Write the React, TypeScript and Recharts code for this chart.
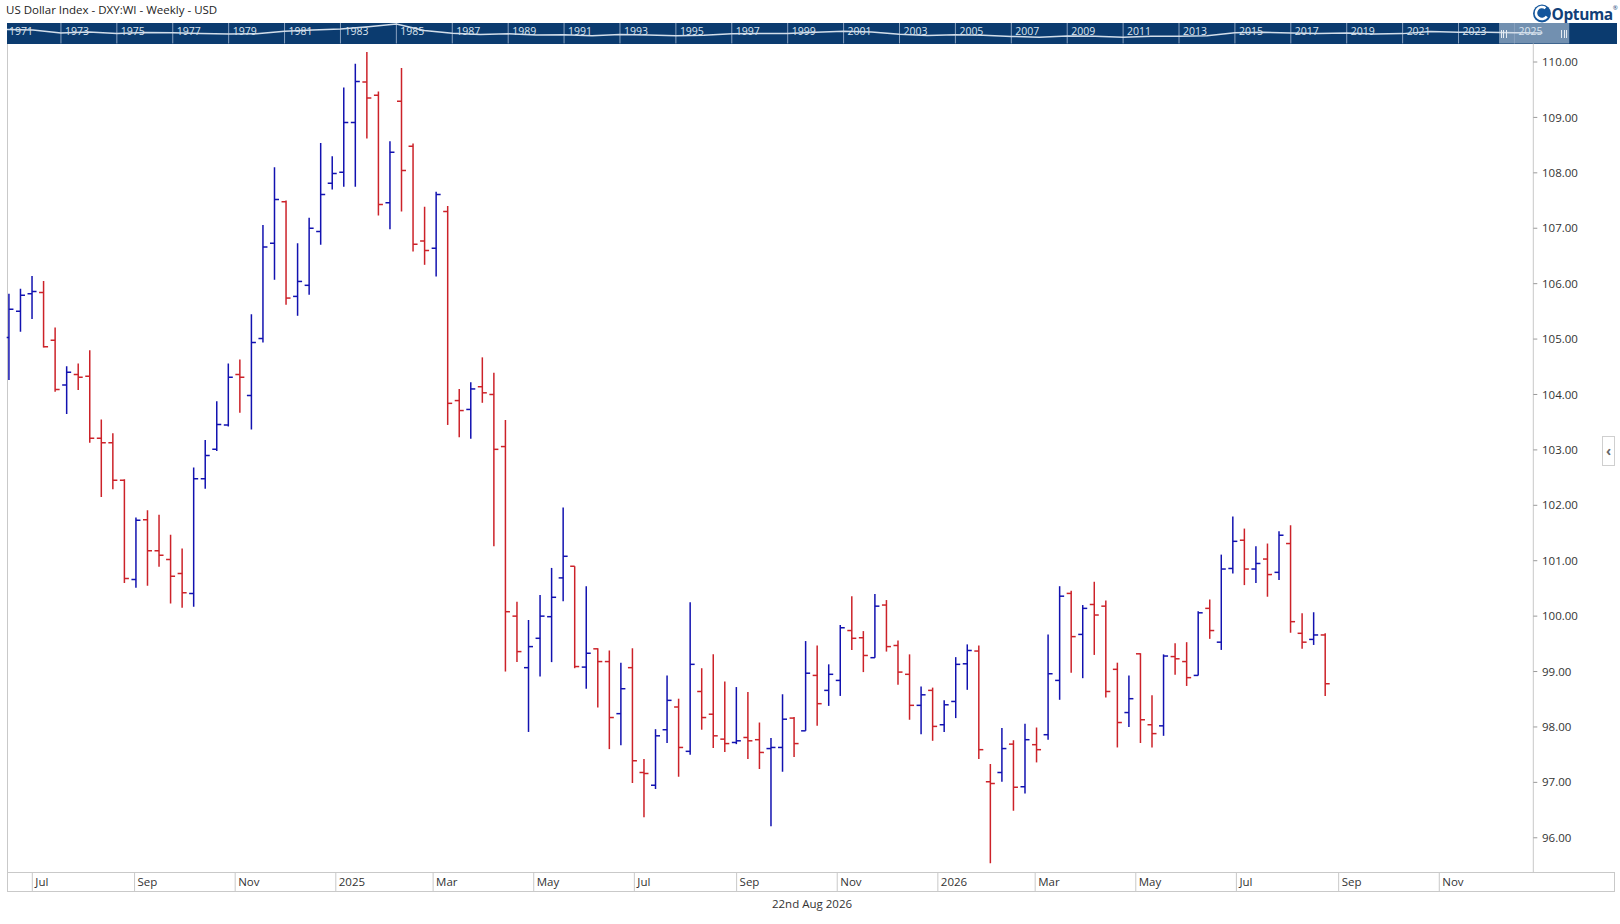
import React from "react";
import {
  ComposedChart,
  Bar,
  XAxis,
  YAxis,
  LineChart,
  Line,
  ReferenceLine,
  ReferenceArea,
} from "recharts";

// ---------- Weekly OHLC data (US Dollar Index) ----------
// x position of each weekly bar = days after 1 Jul 2024
const FIRST_BAR_DAY = -14;
const BAR_STEP_DAYS = 7;

const OPEN = [
  105.03, 105.5, 105.82, 105.84, 104.98, 104.17, 104.36, 104.33, 103.21, 103.13,
  102.45, 100.66, 101.74, 101.18, 101.02, 100.77, 100.41, 102.48, 103.01, 103.45,
  104.36, 103.98, 105.01, 106.73, 107.48, 105.77, 105.97, 106.94, 107.81, 108.01,
  108.91, 109.64, 109.4, 107.46, 109.29, 108.48, 106.77, 106.64, 107.3, 103.89,
  103.73, 104.14, 104.0, 103.06, 100.0, 99.07, 99.6, 99.99, 100.69, 100.9,
  99.08, 99.41, 99.18, 98.24, 99.07, 97.18, 96.95, 97.95, 98.36, 97.56,
  98.64, 98.23, 97.78, 97.72, 97.81, 97.77, 97.61, 97.63, 98.16, 97.93,
  98.93, 98.66, 98.84, 99.74, 99.61, 99.25, 100.2, 99.47, 98.95, 98.39,
  98.66, 98.04, 98.46, 99.14, 99.37, 97.01, 97.18, 97.69, 96.92, 97.68,
  97.86, 98.84, 100.41, 99.67, 100.21, 100.18, 99.04, 98.26, 99.32, 98.04,
  98.02, 99.27, 99.18, 98.93, 100.14, 99.53, 100.86, 101.37, 100.85, 101.03,
  100.79, 101.31, 99.69, 99.58, 99.66,
];
const HIGH = [
  105.82, 105.91, 106.14, 106.05, 105.21, 104.51, 104.56, 104.8, 103.55, 103.3,
  102.47, 101.78, 101.91, 101.83, 101.47, 101.22, 102.68, 103.18, 103.88, 104.56,
  104.63, 105.45, 107.06, 108.1, 107.5, 106.73, 107.19, 108.54, 108.3, 109.54,
  109.97, 110.18, 109.47, 108.57, 109.89, 108.53, 107.39, 107.66, 107.4, 104.1,
  104.22, 104.67, 104.39, 103.54, 100.26, 99.93, 100.38, 100.87, 101.96, 100.9,
  100.54, 99.42, 99.38, 99.16, 99.42, 97.42, 97.96, 98.93, 98.51, 100.25,
  99.06, 99.31, 98.82, 98.72, 98.63, 98.08, 97.8, 98.59, 98.18, 99.55,
  99.47, 99.13, 99.84, 100.36, 99.73, 100.4, 100.29, 99.56, 99.31, 98.73,
  98.71, 98.48, 99.26, 99.49, 99.47, 97.33, 97.98, 97.76, 98.06, 97.99,
  99.67, 100.54, 100.46, 100.2, 100.62, 100.28, 99.16, 98.93, 99.33, 98.57,
  99.31, 99.51, 99.53, 100.09, 100.3, 101.11, 101.8, 101.58, 101.26, 101.31,
  101.53, 101.64, 100.05, 100.07, 99.69,
];
const LOW = [
  104.26, 105.13, 105.36, 104.85, 104.05, 103.65, 104.08, 103.13, 102.15, 102.29,
  100.6, 100.51, 100.55, 100.89, 100.23, 100.15, 100.17, 102.3, 102.98, 103.42,
  103.67, 103.37, 104.94, 106.07, 105.62, 105.42, 105.8, 106.7, 107.7, 107.75,
  107.75, 108.62, 107.23, 106.98, 107.3, 106.58, 106.34, 106.13, 103.45, 103.23,
  103.2, 103.85, 101.26, 99.0, 99.17, 97.91, 98.91, 99.17, 100.27, 99.06,
  98.69, 98.35, 97.6, 97.67, 96.99, 96.37, 96.88, 97.71, 97.1, 97.5,
  97.95, 97.62, 97.55, 97.69, 97.42, 97.24, 96.21, 97.19, 97.46, 97.93,
  98.02, 98.38, 98.56, 99.39, 98.99, 99.25, 99.36, 98.76, 98.13, 97.87,
  97.75, 97.91, 98.16, 98.67, 97.42, 95.54, 97.01, 96.49, 96.8, 97.36,
  97.77, 98.49, 98.98, 98.88, 99.3, 98.53, 97.63, 98.0, 97.71, 97.63,
  97.84, 98.94, 98.74, 98.93, 99.59, 99.39, 100.77, 100.56, 100.6, 100.35,
  100.65, 99.7, 99.41, 99.48, 98.56,
];
const CLOSE = [
  105.54, 105.79, 105.86, 104.86, 104.09, 104.4, 104.31, 103.21, 103.13, 102.45,
  100.68, 101.73, 101.18, 101.1, 100.72, 100.42, 102.48, 102.9, 103.46, 104.31,
  104.31, 104.94, 106.66, 107.52, 105.74, 106.04, 107.0, 107.61, 107.99, 108.91,
  109.65, 109.35, 107.43, 108.37, 108.04, 106.71, 106.6, 107.61, 103.84, 103.71,
  104.1, 104.03, 103.01, 100.08, 99.36, 99.45, 100.0, 100.34, 101.08, 99.09,
  99.33, 99.18, 98.17, 98.69, 97.39, 97.16, 97.84, 98.48, 97.63, 99.13,
  98.17, 97.84, 97.7, 97.75, 97.75, 97.54, 97.63, 98.14, 97.7, 98.97,
  98.42, 98.95, 99.79, 99.6, 99.29, 100.18, 99.45, 98.99, 98.39, 98.58,
  98.01, 98.4, 99.13, 99.38, 97.59, 96.98, 97.61, 96.91, 97.77, 97.59,
  98.96, 100.36, 99.63, 100.14, 100.02, 98.64, 98.08, 98.51, 98.13, 97.88,
  99.28, 99.23, 98.89, 100.06, 99.74, 100.85, 101.35, 100.85, 100.95, 100.75,
  101.46, 99.9, 99.53, 99.66, 98.78,
];

// ---------- Axes ----------
const X_TICK_DAYS = [0, 62, 123, 184, 243, 304, 365, 427, 488, 549, 608, 669, 730, 792, 853];
const X_TICK_LABELS = [
  "Jul", "Sep", "Nov", "2025", "Mar", "May", "Jul", "Sep", "Nov", "2026", "Mar", "May", "Jul", "Sep", "Nov",
];
const X_DOMAIN = [-15.52, 910.0];
const Y_TICKS = [96, 97, 98, 99, 100, 101, 102, 103, 104, 105, 106, 107, 108, 109, 110];
const Y_DOMAIN = [95.377, 110.334];

// ---------- Navigator (long-term history strip) ----------
const NAV_YEARS = [
  1971, 1972, 1973, 1974, 1975, 1976, 1977, 1978, 1979, 1980, 1981, 1982, 1983, 1984,
  1985, 1986, 1987, 1988, 1989, 1990, 1991, 1992, 1993, 1994, 1995, 1996, 1997, 1998,
  1999, 2000, 2001, 2002, 2003, 2004, 2005, 2006, 2007, 2008, 2009, 2010, 2011, 2012,
  2013, 2014, 2015, 2016, 2017, 2018, 2019, 2020, 2021, 2022, 2023, 2024, 2025, 2026,
];
const NAV_VALUES = [
  127, 124, 108, 114, 106, 111, 110, 105, 103, 104, 118, 124, 130, 142,
  156, 122, 107, 100, 104, 97, 99, 94, 100, 97, 93, 96, 104, 105,
  106, 112, 118, 114, 102, 95, 99, 96, 90, 86, 92, 91, 86, 91,
  91, 94, 110, 112, 108, 106, 109, 103, 105, 116, 112, 113, 110, 109,
];
const NAV_LABEL_YEARS = [
  1971, 1973, 1975, 1977, 1979, 1981, 1983, 1985, 1987, 1989, 1991, 1993, 1995, 1997,
  1999, 2001, 2003, 2005, 2007, 2009, 2011, 2013, 2015, 2017, 2019, 2021, 2023, 2025,
];
const NAV_WINDOW = [2024.45, 2026.96];
const NAV_DOMAIN_X = [1971.07, 2028.68];
const NAV_DOMAIN_Y = [52, 162];

// ---------- Layout / style ----------
const W = 1620;
const H = 924;
const PLOT_LEFT = 6.7;
const PLOT_TOP = 43.5;
const PLOT_RIGHT = 1533.3;
const AXIS_TOP = 872.3;
const XAXIS_H = 18.7;
const AXIS_BOTTOM = AXIS_TOP + XAXIS_H;
const FRAME_RIGHT = 1614;
const BLUE = "#1212b0";
const RED = "#cc2229";
const GRID = "#c9c9c9";
const TEXT = "#333333";
const NAVY = "#0b3b6f";
const FONT = "'Segoe UI', 'Open Sans', 'Noto Sans', sans-serif";

const bars = OPEN.map((o, i) => ({
  day: FIRST_BAR_DAY + BAR_STEP_DAYS * i,
  open: o,
  high: HIGH[i],
  low: LOW[i],
  close: CLOSE[i],
  range: [LOW[i], HIGH[i]],
}));

const navData = NAV_YEARS.map((y, i) => ({ year: y, v: NAV_VALUES[i] }));

const OhlcShape = (props: any) => {
  const { x, y, width, height, payload } = props;
  if (x == null || y == null || !payload) return null;
  const top = Math.min(y, y + height);
  const h = Math.abs(height);
  const { open, close, high, low } = payload;
  const span = high - low;
  const cx = x + width / 2;
  const yOf = (v: number) => top + (span === 0 ? 0 : ((high - v) / span) * h);
  const color = close >= open ? BLUE : RED;
  const yo = yOf(open);
  const yc = yOf(close);
  return (
    <g stroke={color} strokeWidth={1.5} fill="none">
      <line x1={cx} x2={cx} y1={top} y2={top + h} />
      <line x1={cx - 4.5} x2={cx} y1={yo} y2={yo} />
      <line x1={cx} x2={cx + 4.5} y1={yc} y2={yc} />
    </g>
  );
};

const XTick = (props: any) => {
  const { x, payload } = props;
  const idx = X_TICK_DAYS.indexOf(payload.value);
  return (
    <g>
      <line x1={x} x2={x} y1={AXIS_TOP} y2={AXIS_BOTTOM} stroke={GRID} strokeWidth={1} />
      <text x={x + 3} y={AXIS_TOP + 13.8} fontSize={11.5} fill={TEXT} fontFamily={FONT}>
        {X_TICK_LABELS[idx]}
      </text>
    </g>
  );
};

const YearLabel = (props: any) => {
  const vb = props.viewBox || {};
  return (
    <text x={(vb.x || 0) + 4} y={11.6} fontSize={10.5} fill="#dbe4ee" fontFamily={FONT}>
      {props.year}
    </text>
  );
};

const Logo = () => (
  <svg width={88} height={24} style={{ position: "absolute", left: 1531, top: 1 }}>
    <circle cx={11} cy={12.5} r={9} fill="#14569c" />
    <path d="M 14.5 7.2 A 6 6 0 1 0 15.8 15.5" stroke="#ffffff" strokeWidth={2.6} fill="none" />
    <text x={20.5} y={19} fontSize={15.5} fontWeight={700} fill="#123f78" fontFamily={FONT} letterSpacing={-0.4}>
      Optuma
      <tspan fontSize={6} fontWeight={400} dy={-10}>
        ®
      </tspan>
    </text>
  </svg>
);

export default function App() {
  return (
    <div style={{ position: "relative", width: W, height: H, background: "#fff", fontFamily: FONT, overflow: "hidden" }}>
      <style>{"html,body{margin:0;padding:0;background:#fff;}"}</style>

      {/* title */}
      <div style={{ position: "absolute", left: 6, top: 2, fontSize: 11.5, color: "#222", whiteSpace: "nowrap", lineHeight: "16px" }}>
        US Dollar Index - DXY:WI - Weekly - USD
      </div>

      <Logo />

      {/* navigator strip */}
      <div style={{ position: "absolute", left: PLOT_LEFT, top: 23, width: 1617 - PLOT_LEFT, height: PLOT_TOP - 23, background: NAVY }}>
        <LineChart width={1617 - PLOT_LEFT} height={PLOT_TOP - 23} data={navData} margin={{ top: 0, right: 0, bottom: 0, left: 0 }}>
          <XAxis type="number" dataKey="year" domain={NAV_DOMAIN_X} hide allowDataOverflow />
          <YAxis type="number" domain={NAV_DOMAIN_Y} hide allowDataOverflow />
          <ReferenceArea x1={NAV_WINDOW[0]} x2={NAV_WINDOW[1]} fill="#c9d7e6" fillOpacity={0.55} stroke="none" />
          {NAV_LABEL_YEARS.map((y) => (
            <ReferenceLine
              key={y}
              x={y}
              stroke="#8aa2c0"
              strokeWidth={1}
              ifOverflow="visible"
              label={<YearLabel year={y} />}
            />
          ))}
          <Line type="linear" dataKey="v" stroke="#d3deea" strokeWidth={1.5} dot={false} isAnimationActive={false} />
        </LineChart>
        {[1501, 1503.5, 1506, 1561.5, 1564, 1566.5].map((gx) => (
          <div key={gx} style={{ position: "absolute", left: gx - PLOT_LEFT, top: 7, width: 1, height: 8, background: "#e6ecf3" }} />
        ))}
      </div>

      {/* frame lines */}
      <div style={{ position: "absolute", left: PLOT_LEFT, top: PLOT_TOP, width: 1, height: AXIS_BOTTOM - PLOT_TOP, background: GRID }} />
      <div style={{ position: "absolute", left: PLOT_LEFT, top: AXIS_TOP, width: FRAME_RIGHT - PLOT_LEFT, height: 1, background: GRID }} />
      <div style={{ position: "absolute", left: PLOT_LEFT, top: AXIS_BOTTOM, width: FRAME_RIGHT - PLOT_LEFT, height: 1, background: GRID }} />
      <div style={{ position: "absolute", left: FRAME_RIGHT, top: AXIS_TOP, width: 1, height: XAXIS_H + 1, background: GRID }} />

      {/* main OHLC chart */}
      <div style={{ position: "absolute", left: 0, top: 0 }}>
        <ComposedChart
          width={W}
          height={H}
          data={bars}
          margin={{ top: PLOT_TOP, right: 0, bottom: H - AXIS_BOTTOM, left: PLOT_LEFT }}
        >
          <XAxis
            type="number"
            dataKey="day"
            domain={X_DOMAIN}
            allowDataOverflow
            ticks={X_TICK_DAYS}
            interval={0}
            height={XAXIS_H}
            axisLine={false}
            tickLine={false}
            tick={<XTick />}
          />
          <YAxis
            type="number"
            orientation="right"
            domain={Y_DOMAIN}
            allowDataOverflow
            ticks={Y_TICKS}
            interval={0}
            width={W - PLOT_RIGHT}
            axisLine={{ stroke: GRID }}
            tickLine={{ stroke: "#9a9a9a" }}
            tickSize={4}
            tickMargin={4.7}
            tick={{ fontSize: 11.5, fill: TEXT, fontFamily: FONT }}
            tickFormatter={(v: number) => v.toFixed(2)}
          />
          <Bar dataKey="range" barSize={9} shape={<OhlcShape />} isAnimationActive={false} />
        </ComposedChart>
      </div>

      {/* collapse button */}
      <div
        style={{
          position: "absolute",
          left: 1602,
          top: 436,
          width: 11,
          height: 28,
          border: "1px solid #cfcfcf",
          background: "#fff",
          color: "#666",
          fontSize: 14,
          lineHeight: "28px",
          textAlign: "center",
          fontWeight: 700,
        }}
      >
        ‹
      </div>

      {/* date label */}
      <div style={{ position: "absolute", left: 712, width: 200, top: 896, textAlign: "center", fontSize: 11.5, color: TEXT, lineHeight: "16px" }}>
        22nd Aug 2026
      </div>
    </div>
  );
}
